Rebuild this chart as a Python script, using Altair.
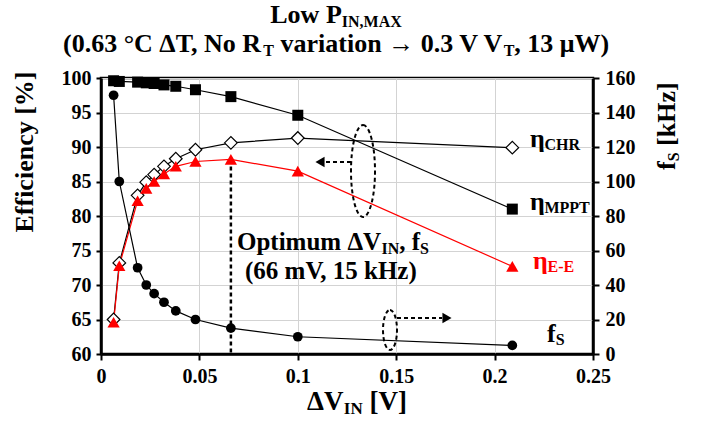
import altair as alt
import pandas as pd

# ---------------- data ----------------
dv = [0.0064, 0.0093, 0.0186, 0.023, 0.027, 0.032, 0.038, 0.048, 0.066, 0.100, 0.209]
fs_khz = [150, 100, 50, 40, 35, 30, 25, 20, 15, 10, 5]
eta_mppt = [99.6, 99.5, 99.4, 99.3, 99.2, 99.0, 98.8, 98.3, 97.3, 94.6, 81.0]
eta_chr = [65.0, 73.2, 83.0, 84.9, 86.0, 87.2, 88.3, 89.6, 90.6, 91.3, 89.9]
eta_ee = [64.6, 72.8, 82.2, 84.0, 85.0, 86.1, 87.2, 87.9, 88.2, 86.5, 72.7]
x_ticks = [0, 0.05, 0.1, 0.15, 0.2, 0.25]
eff_ticks = [60, 65, 70, 75, 80, 85, 90, 95, 100]
fs_ticks = [0, 20, 40, 60, 80, 100, 120, 140, 160]
opt_idx = 8

df = pd.DataFrame({"dv": dv, "fs": fs_khz, "mppt": eta_mppt, "chr": eta_chr, "ee": eta_ee})
opt = pd.DataFrame({"dv": [dv[opt_idx]], "top": [eta_ee[opt_idx]], "bot": [eff_ticks[0]]})

# ---------------- layout ----------------
L, T = 101, 78
PW, PH = 492, 276
FONT = "Liberation Serif"
RED = "#ff0000"

xs = alt.Scale(domain=[0, 0.25], nice=False, zero=False)
ys = alt.Scale(domain=[60, 100], nice=False, zero=False)
ys2 = alt.Scale(domain=[0, 160], nice=False)

X = alt.X("dv:Q", scale=xs, title=None,
          axis=alt.Axis(values=x_ticks, format="~g", labelPadding=6, tickSize=6, grid=True))
LEFT_AXIS = alt.Axis(values=eff_ticks, labelPadding=5, tickSize=5, grid=True)

def ycol(col):
    return alt.Y(f"{col}:Q", scale=ys, title=None, axis=LEFT_AXIS)

base = alt.Chart(df)

mppt_line = base.mark_line(color="black", strokeWidth=1.2).encode(x=X, y=ycol("mppt"))
chr_line = base.mark_line(color="black", strokeWidth=1.2).encode(x=X, y=ycol("chr"))
ee_line = base.mark_line(color=RED, strokeWidth=1.2).encode(x=X, y=ycol("ee"))
opt_rule = alt.Chart(opt).mark_rule(color="black", strokeWidth=2.5, strokeDash=[4, 3]).encode(
    x=X, y=ycol("top"), y2="bot:Q")
mppt_pts = base.mark_point(shape="square", filled=True, color="black", size=121, opacity=1).encode(
    x=X, y=ycol("mppt"))
chr_pts = base.mark_point(shape="diamond", filled=True, fill="white", stroke="black",
                          strokeWidth=1.2, size=160, opacity=1).encode(x=X, y=ycol("chr"))
ee_pts = base.mark_point(shape="triangle-up", filled=True, color=RED, size=150, opacity=1).encode(
    x=X, y=ycol("ee"))

left = alt.layer(mppt_line, chr_line, ee_line, opt_rule, mppt_pts, chr_pts, ee_pts)

Y2 = alt.Y("fs:Q", scale=ys2, title=None,
           axis=alt.Axis(orient="right", values=fs_ticks, grid=False, labelPadding=6, tickSize=6))
fs_line = base.mark_line(color="black", strokeWidth=1.2).encode(x=X, y=Y2)
fs_pts = base.mark_point(shape="circle", filled=True, color="black", size=95, opacity=1).encode(x=X, y=Y2)
right = alt.layer(fs_line, fs_pts)

# ---------------- rich text (with subscripts) ----------------
WID = {" ": 250, "(": 333, ")": 333, ",": 250, "-": 333, ".": 250, "[": 333, "]": 333,
       "%": 1000, "A": 722, "C": 722, "E": 667, "H": 778, "I": 389, "L": 667, "M": 944, "N": 722,
       "O": 778, "P": 611, "R": 722, "S": 556, "T": 667, "V": 722, "W": 1000, "X": 722,
       "a": 500, "c": 444, "e": 444, "f": 333, "i": 278, "k": 556, "m": 833, "n": 556, "o": 500,
       "p": 556, "r": 444, "t": 333, "u": 556, "v": 500, "w": 722, "y": 500, "z": 444,
       "°": 400, "μ": 556, "Δ": 640, "η": 556, "→": 1000}
for d in "0123456789":
    WID[d] = 500

def width(s, size):
    return sum(WID.get(c, 500) for c in s) * size / 1000.0

def mk(text, px, py, size, color, angle):
    kw = dict(align="left", baseline="alphabetic", font=FONT, fontWeight="bold",
              fontSize=size, color=color)
    if angle:
        kw["angle"] = angle
    return alt.Chart(alt.Data(values=[{"t": text}])).mark_text(**kw).encode(
        x=alt.value(px - L), y=alt.value(py - T), text="t:N")

def rich(parts, x0, y0, F, S, dy, color="black", angle=0, center=False):
    total = sum(width(t, S if s else F) for t, s in parts)
    out = []
    pos = -total / 2 if center else 0
    for t, s in parts:
        size = S if s else F
        off = dy if s else 0
        lead = len(t) - len(t.lstrip(" "))
        pos += lead * WID[" "] * size / 1000.0
        core = t.strip(" ")
        if angle == 0:
            out.append(mk(core, x0 + pos, y0 + off, size, color, 0))
        else:
            out.append(mk(core, x0 + off, y0 - pos, size, color, 270))
        pos += width(t.lstrip(" "), size)
    return out

texts = []
texts += rich([("Low P", 0), ("IN,MAX", 1)], 336, 23, 26, 16, 4, center=True)
texts += rich([("(0.63 °C ΔT, No R", 0), ("T", 1), (" variation → 0.3 V V", 0), ("T", 1),
               (", 13 μW)", 0)], 336, 52, 26, 16, 4, center=True)
texts += rich([("Efficiency [%]", 0)], 33, 152, 26, 16, 4, angle=270, center=True)
texts += rich([("f", 0), ("S", 1), (" [kHz]", 0)], 675, 170, 26, 16, 4, angle=270)
texts += rich([("ΔV", 0), ("IN", 1), (" [V]", 0)], 357, 410, 27, 17, 4, center=True)
texts += rich([("Optimum ΔV", 0), ("IN", 1), (", f", 0), ("S", 1)], 237, 250, 25, 16, 4)
texts += rich([("(66 mV, 15 kHz)", 0)], 245, 279, 25, 16, 4)
texts += rich([("η", 0), ("CHR", 1)], 530, 147, 26, 16, 3)
texts += rich([("η", 0), ("MPPT", 1)], 530, 210, 26, 16, 3)
texts += rich([("η", 0), ("E-E", 1)], 533, 269, 26, 16, 3, color=RED)
texts += rich([("f", 0), ("S", 1)], 547, 342, 26, 16, 3)

# ---------------- dashed ellipses and arrows (annotations) ----------------
one = alt.Data(values=[{"a": 1}])

def ellipse(cx, cy, rx, ry):
    k = rx / ry
    path = f"M 0 -1 A {k:.3f} 1 0 1 1 0 1 A {k:.3f} 1 0 1 1 0 -1 Z"
    return alt.Chart(one).mark_point(shape=path, filled=False, stroke="black", strokeWidth=2,
                                     strokeDash=[4, 3], size=(2 * ry) ** 2, opacity=1).encode(
        x=alt.value(cx - L), y=alt.value(cy - T))

def hdash(x1, x2, y):
    return alt.Chart(one).mark_rule(color="black", strokeWidth=2, strokeDash=[4, 3]).encode(
        x=alt.value(x1 - L), x2=alt.value(x2 - L), y=alt.value(y - T))

def head(x, y, shape):
    return alt.Chart(one).mark_point(shape=shape, filled=True, color="black", size=110, opacity=1).encode(
        x=alt.value(x - L), y=alt.value(y - T))

annots = [
    ellipse(363, 171, 12, 46), hdash(351, 326, 162), head(320, 162, "triangle-left"),
    ellipse(390, 330, 7, 20), hdash(397, 442, 318), head(447, 318, "triangle-right"),
]

chart = alt.layer(left, right, *annots, *texts).resolve_scale(y="independent").properties(
    width=PW, height=PH,
    autosize=alt.AutoSizeParams(type="none"),
    padding={"left": L, "top": T, "right": 711 - L - PW, "bottom": 421 - T - PH},
    background="white",
).configure_view(stroke="black", strokeWidth=2.5).configure_axis(
    labelFont=FONT, labelFontWeight="bold", labelFontSize=20, labelColor="black",
    tickColor="black", tickWidth=2, domainColor="black", domainWidth=2.5,
    gridColor="#d3d3d3", gridWidth=1, labelOverlap=False, labelFlush=False,
)

chart.save("out.html", embed_options={"renderer": "svg", "actions": False})
